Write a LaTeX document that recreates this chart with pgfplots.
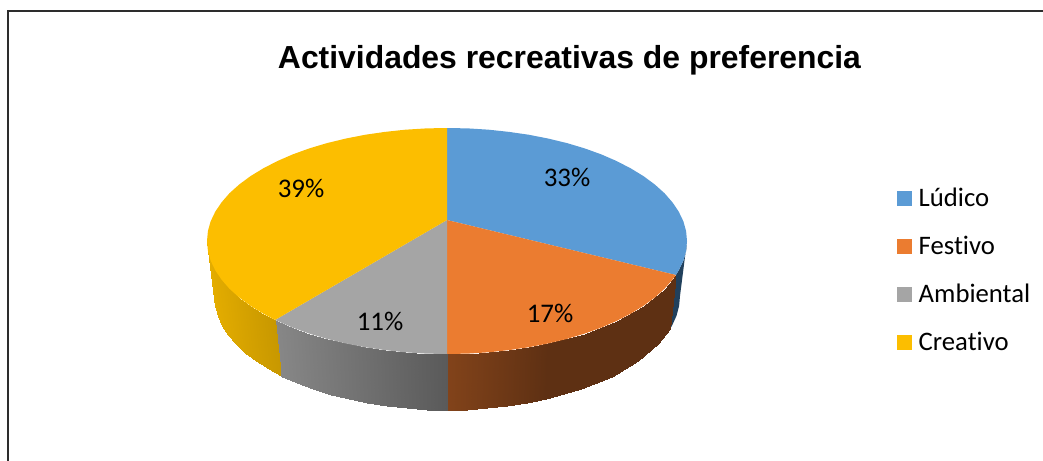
\documentclass[border=0pt]{standalone}
\usepackage{fontspec}
\setmainfont{Carlito}[Ligatures=NoCommon]
\setsansfont{Liberation Sans}
\usepackage{xcolor}
\usepackage{pgfplots}
\pgfplotsset{compat=1.18}

\definecolor{ludico}{HTML}{5B9BD5}
\definecolor{festivo}{HTML}{EB7C30}
\definecolor{ambiental}{HTML}{A5A5A5}
\definecolor{creativo}{HTML}{FCBE00}
\definecolor{ludicoside}{HTML}{21405C}

\begin{document}
\begin{tikzpicture}
\pgfplotsset{
    colormap={sideF}{rgb255(0)=(130,67,26) rgb255(1)=(94,48,19)},
    colormap={sideA}{rgb255(0)=(90,90,90) rgb255(1)=(135,135,135)},
    colormap={sideC}{rgb255(0)=(200,152,0) rgb255(1)=(228,173,0)},
}
\begin{axis}[
    width=1043bp,
    height=461bp,
    scale only axis,
    xmin=0, xmax=1043,
    ymin=0, ymax=461,
    y dir=reverse,
    axis line style={draw=none},
    ticks=none,
    point meta min=0,
    point meta max=1,
    legend style={
        at={(axis cs:897,191)},
        anchor=north west,
        draw=none,
        fill=none,
        inner sep=0pt,
        font=\fontsize{26.8}{26.8}\selectfont,
        row sep=28bp,
        /tikz/column 2/.style={column sep=0pt},
        nodes={inner sep=0pt, text height=15bp, text depth=5bp},
    },
    legend cell align=left,
    legend image code/.code={\fill[#1] (0bp,-5bp) rectangle (15bp,10bp); \path (21.5bp,0bp);},
]
% marco
\addplot[forget plot, color={rgb,255:red,45;green,45;blue,45}, line width=1.6bp] coordinates {(8,470) (8,11) (1050,11)};

% paredes laterales
\addplot[forget plot, fill=ludicoside, draw=none] coordinates {
    (675.9,275) (678.8,270.2) (683.4,260.6) (686.1,250.9) (687,241) (680,296)
    (679.1,305.9) (676.5,315.8) (672.1,325.5) (670,329)
} -- cycle;
\addplot[forget plot, surf, shader=interp, colormap name=sideF, mesh/cols=11, point meta=explicit] coordinates {
    (447,354) [0] (467.9,353.6) [0.2] (488.7,352.3) [0.4] (509.1,350.1) [0.6] (529.1,347.2) [0.8] (548.4,343.4) [1]
    (584.7,333.6) [1] (616.7,320.9) [1] (643.6,305.8) [1] (664.5,288.8) [1] (675.9,275) [1]
    (447,410) [0] (467.3,409.6) [0.2] (487.4,408.3) [0.4] (507.3,406.1) [0.6] (526.7,403.1) [0.8] (545.5,399.3) [1]
    (580.6,389.4) [1] (611.8,376.6) [1] (637.9,361.4) [1] (658.2,344.2) [1] (670,329) [1]
};
\addplot[forget plot, surf, shader=interp, colormap name=sideA, mesh/cols=11, point meta=explicit] coordinates {
    (447,354) [0] (426.1,353.6) [0.12] (405.3,352.3) [0.24] (384.9,350.1) [0.36] (364.9,347.2) [0.48] (345.6,343.4) [0.59]
    (327,338.9) [0.70] (309.3,333.6) [0.80] (292.7,327.6) [0.90] (277.3,320.9) [0.99] (275,320) [1]
    (447,410) [0] (426.7,409.6) [0.12] (406.6,408.3) [0.24] (386.7,406.1) [0.36] (367.3,403.1) [0.48] (348.5,399.3) [0.59]
    (330.5,394.7) [0.70] (313.4,389.4) [0.80] (297.2,383.3) [0.90] (282.2,376.6) [0.99] (280.5,375.7) [1]
};
\addplot[forget plot, surf, shader=interp, colormap name=sideC, mesh/cols=10, point meta=explicit] coordinates {
    (275,320) [0] (263.2,313.6) [0.17] (250.4,305.8) [0.36] (239.2,297.5) [0.53] (229.5,288.8) [0.67]
    (221.5,279.6) [0.79] (215.2,270.2) [0.88] (210.6,260.6) [0.95] (207.9,250.9) [0.99] (207,241) [1]
    (280.5,375.7) [0] (268.5,369.3) [0.17] (256.1,361.4) [0.36] (245.2,353) [0.53] (235.8,344.2) [0.67]
    (228.1,335) [0.79] (221.9,325.5) [0.88] (217.5,315.8) [0.95] (214.9,305.9) [0.99] (214,296) [1]
};

% caras superiores
\addplot[fill=ludico, draw=none] coordinates {
    (447,220) (447,128) (467.9,128.4) (488.7,129.7) (509.1,131.9) (529.1,134.8) (548.4,138.6) (567,143.1)
    (584.7,148.4) (601.3,154.4) (616.7,161.1) (630.8,168.4) (643.6,176.2) (654.8,184.5) (664.5,193.2)
    (672.5,202.4) (678.8,211.8) (683.4,221.4) (686.1,231.1) (687,241) (686.1,250.9) (683.4,260.6)
    (678.8,270.2) (675.9,275)
} -- cycle;
\addplot[fill=festivo, draw=none] coordinates {
    (447,220) (675.9,275) (672.5,279.6) (664.5,288.8) (654.8,297.5) (643.6,305.8) (630.8,313.6) (616.7,320.9)
    (601.3,327.6) (584.7,333.6) (567,338.9) (548.4,343.4) (529.1,347.2) (509.1,350.1) (488.7,352.3)
    (467.9,353.6) (447,354)
} -- cycle;
\addplot[fill=ambiental, draw=none] coordinates {
    (447,220) (447,354) (426.1,353.6) (405.3,352.3) (384.9,350.1) (364.9,347.2) (345.6,343.4) (327,338.9)
    (309.3,333.6) (292.7,327.6) (277.3,320.9) (275,320)
} -- cycle;
\addplot[fill=creativo, draw=none] coordinates {
    (447,220) (275,320) (263.2,313.6) (250.4,305.8) (239.2,297.5) (229.5,288.8) (221.5,279.6) (215.2,270.2)
    (210.6,260.6) (207.9,250.9) (207,241) (207.9,231.1) (210.6,221.4) (215.2,211.8) (221.5,202.4) (229.5,193.2)
    (239.2,184.5) (250.4,176.2) (263.2,168.4) (277.3,161.1) (292.7,154.4) (309.3,148.4) (327,143.1) (345.6,138.6)
    (364.9,134.8) (384.9,131.9) (405.3,129.7) (426.1,128.4) (447,128)
} -- cycle;
\legend{L\'udico, Festivo, Ambiental, Creativo}

\node[font=\fontsize{27}{27}\selectfont, inner sep=0pt] at (axis cs:567,177) {33\%};
\node[font=\fontsize{27}{27}\selectfont, inner sep=0pt] at (axis cs:550,313) {17\%};
\node[font=\fontsize{27}{27}\selectfont, inner sep=0pt] at (axis cs:380,321) {11\%};
\node[font=\fontsize{27}{27}\selectfont, inner sep=0pt] at (axis cs:301,188) {39\%};
\node[font=\sffamily\bfseries\fontsize{32}{32}\selectfont, inner sep=0pt] at (axis cs:569.5,60) {Actividades recreativas de preferencia};
\end{axis}
\end{tikzpicture}
\end{document}
